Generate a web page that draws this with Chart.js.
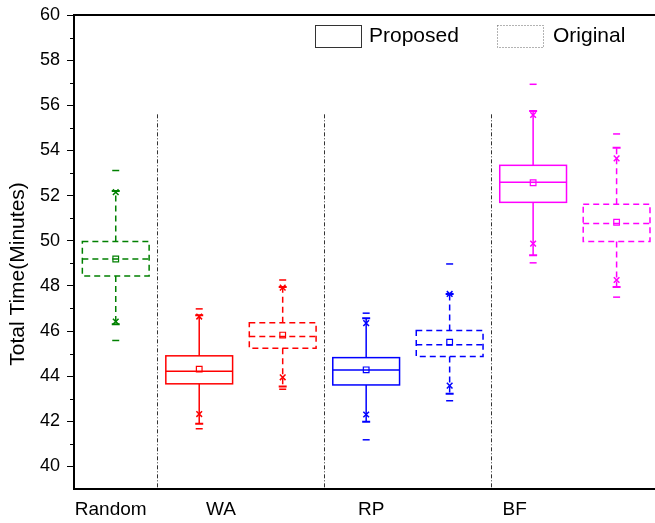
<!DOCTYPE html>
<html>
<head>
<meta charset="utf-8">
<script src="https://cdn.jsdelivr.net/npm/chart.js@4.4.1/dist/chart.umd.min.js"></script>
<style>
  body { margin: 0; background: #fff; }
  #wrap { width: 655px; height: 523px; }
</style>
</head>
<body>
<div id="wrap"><canvas id="demo" width="655" height="523"></canvas></div>
<script>
// groups shown under the x axis
const groups = ["Random", "WA", "RP", "BF"];
const groupTickPos = [0.94, 2.26, 4.06, 5.78];
const dividerPos = [1.5, 3.5, 5.5];
const dividerTop = 55.6;

// one entry per box
const boxPos = [1, 2, 3, 4, 5, 6, 7];
const boxMethod = ["Original", "Proposed", "Original", "Proposed", "Original", "Proposed", "Original"];
const boxColor = ["#008000", "#ff0000", "#ff0000", "#0000ff", "#0000ff", "#ff00ff", "#ff00ff"];

const minVals   = [45.58, 41.67, 43.42, 41.18, 42.91, 49.02, 47.50];
const p1Vals    = [46.42, 42.32, 43.95, 42.30, 43.58, 49.87, 48.26];
const whiskLow  = [46.30, 41.89, 43.54, 41.98, 43.22, 49.36, 47.95];
const q1Vals    = [48.44, 43.66, 45.24, 43.61, 44.87, 51.70, 49.96];
const medVals   = [49.19, 44.22, 45.76, 44.27, 45.39, 52.59, 50.76];
const meanVals  = [49.19, 44.31, 45.82, 44.28, 45.50, 52.57, 50.82];
const q3Vals    = [49.96, 44.90, 46.37, 44.82, 46.02, 53.34, 51.62];
const whiskHigh = [52.20, 46.70, 47.95, 46.57, 47.64, 55.75, 54.12];
const p99Vals   = [52.15, 46.64, 47.92, 46.35, 47.64, 55.57, 53.65];
const maxVals   = [53.11, 46.98, 48.26, 46.79, 48.97, 56.93, 54.73];

const yTickVals = [40, 42, 44, 46, 48, 50, 52, 54, 56, 58, 60];

const FONT = "'Liberation Sans', Arial, sans-serif";
const pts = (vals) => vals.map((v, i) => ({ x: boxPos[i], y: v }));

const boxPlugin = {
  id: "boxes",
  beforeDatasetsDraw(chart) {
    const { ctx, scales: { x, y } } = chart;
    ctx.save();
    // group dividers
    ctx.strokeStyle = "#333";
    ctx.lineWidth = 1;
    ctx.setLineDash([4, 2, 1, 2]);
    dividerPos.forEach(d => {
      const px = Math.round(x.getPixelForValue(d)) + 0.5;
      ctx.beginPath();
      ctx.moveTo(px, y.getPixelForValue(dividerTop));
      ctx.lineTo(px, y.bottom);
      ctx.stroke();
    });
    // boxes and whiskers
    boxPos.forEach((p, i) => {
      const dashed = boxMethod[i] === "Original";
      ctx.strokeStyle = boxColor[i];
      ctx.lineWidth = 1.5;
      ctx.setLineDash(dashed ? [6, 4] : []);
      const xl = x.getPixelForValue(p - 0.4), xr = x.getPixelForValue(p + 0.4);
      const xc = x.getPixelForValue(p);
      const yq1 = y.getPixelForValue(q1Vals[i]), yq3 = y.getPixelForValue(q3Vals[i]);
      const ym = y.getPixelForValue(medVals[i]);
      ctx.strokeRect(xl, yq3, xr - xl, yq1 - yq3);
      ctx.beginPath();
      ctx.moveTo(xl, ym); ctx.lineTo(xr, ym);
      ctx.stroke();
      const yhi = y.getPixelForValue(whiskHigh[i]), ylo = y.getPixelForValue(whiskLow[i]);
      ctx.beginPath();
      ctx.moveTo(xc, yq3); ctx.lineTo(xc, yhi);
      ctx.moveTo(xc, yq1); ctx.lineTo(xc, ylo);
      ctx.stroke();
      ctx.setLineDash([]);
      ctx.lineWidth = 2;
      ctx.beginPath();
      ctx.moveTo(xc - 4, yhi); ctx.lineTo(xc + 4, yhi);
      ctx.moveTo(xc - 4, ylo); ctx.lineTo(xc + 4, ylo);
      ctx.stroke();
    });
    ctx.restore();
  },
  afterDraw(chart) {
    const { ctx, chartArea, scales: { y } } = chart;
    ctx.save();
    // top frame line
    ctx.strokeStyle = "#000";
    ctx.lineWidth = 2;
    ctx.beginPath();
    ctx.moveTo(chartArea.left, chartArea.top);
    ctx.lineTo(chartArea.right, chartArea.top);
    ctx.stroke();
    // minor y ticks
    ctx.lineWidth = 1;
    for (let v = 41; v < 60; v += 2) {
      const py = Math.round(y.getPixelForValue(v)) + 0.5;
      ctx.beginPath();
      ctx.moveTo(chartArea.left - 4, py);
      ctx.lineTo(chartArea.left, py);
      ctx.stroke();
    }
    // y title
    ctx.fillStyle = "#000";
    ctx.font = "21px " + FONT;
    ctx.textAlign = "center";
    ctx.textBaseline = "middle";
    ctx.translate(18, 274);
    ctx.rotate(-Math.PI / 2);
    ctx.fillText("Total Time(Minutes)", 0, 0);
    ctx.restore();

    // legend
    ctx.save();
    ctx.lineWidth = 1;
    ctx.strokeStyle = "#333";
    ctx.strokeRect(315.5, 25.5, 46, 22);
    ctx.strokeStyle = "#666";
    ctx.setLineDash([1, 2]);
    ctx.strokeRect(497.5, 25.5, 46, 22);
    ctx.setLineDash([]);
    ctx.fillStyle = "#000";
    ctx.font = "21px " + FONT;
    ctx.textAlign = "left";
    ctx.textBaseline = "middle";
    ctx.fillText("Proposed", 369, 36);
    ctx.fillText("Original", 553, 36);
    ctx.restore();
  }
};

const ctx = document.getElementById("demo").getContext("2d");
new Chart(ctx, {
  type: "scatter",
  data: {
    datasets: [
      {
        label: "mean",
        data: pts(meanVals),
        pointStyle: "rect",
        pointRadius: 4,
        pointBorderWidth: 1.2,
        pointBorderColor: boxColor,
        pointBackgroundColor: "rgba(0,0,0,0)",
      },
      {
        label: "1%",
        data: pts(p1Vals),
        pointStyle: "crossRot",
        pointRadius: 4,
        pointBorderWidth: 1.5,
        pointBorderColor: boxColor,
      },
      {
        label: "99%",
        data: pts(p99Vals),
        pointStyle: "crossRot",
        pointRadius: 4,
        pointBorderWidth: 1.5,
        pointBorderColor: boxColor,
      },
      {
        label: "min",
        data: pts(minVals),
        pointStyle: "line",
        pointRadius: 3.5,
        pointBorderWidth: 1.5,
        pointBorderColor: boxColor,
      },
      {
        label: "max",
        data: pts(maxVals),
        pointStyle: "line",
        pointRadius: 3.5,
        pointBorderWidth: 1.5,
        pointBorderColor: boxColor,
      },
    ],
  },
  options: {
    responsive: false,
    animation: false,
    layout: { autoPadding: false, padding: { top: 15, right: 0, left: 0, bottom: 0 } },
    plugins: { legend: { display: false }, tooltip: { enabled: false } },
    scales: {
      x: {
        type: "linear",
        min: 0.5,
        max: 7.46,
        afterFit: (s) => { s.height = 34; s.paddingLeft = 0; s.paddingRight = 0; },
        afterBuildTicks: (s) => { s.ticks = groupTickPos.map(v => ({ value: v })); },
        grid: { display: false, drawTicks: false },
        border: { display: true, color: "#000", width: 2 },
        ticks: {
          padding: 9,
          color: "#000",
          font: { family: FONT, size: 19 },
          autoSkip: false,
          maxRotation: 0,
          callback: (v, i) => groups[i],
        },
      },
      y: {
        min: 39,
        max: 60,
        afterFit: (s) => { s.width = 74; s.paddingTop = 0; s.paddingBottom = 0; },
        afterBuildTicks: (s) => { s.ticks = yTickVals.map(v => ({ value: v })); },
        grid: { drawOnChartArea: false, drawTicks: true, tickLength: 7, color: "#000", tickWidth: 1 },
        border: { display: true, color: "#000", width: 2 },
        ticks: {
          padding: 7,
          color: "#000",
          font: { family: FONT, size: 18 },
          callback: (v) => v,
        },
      },
    },
  },
  plugins: [boxPlugin],
});
</script>
</body>
</html>
